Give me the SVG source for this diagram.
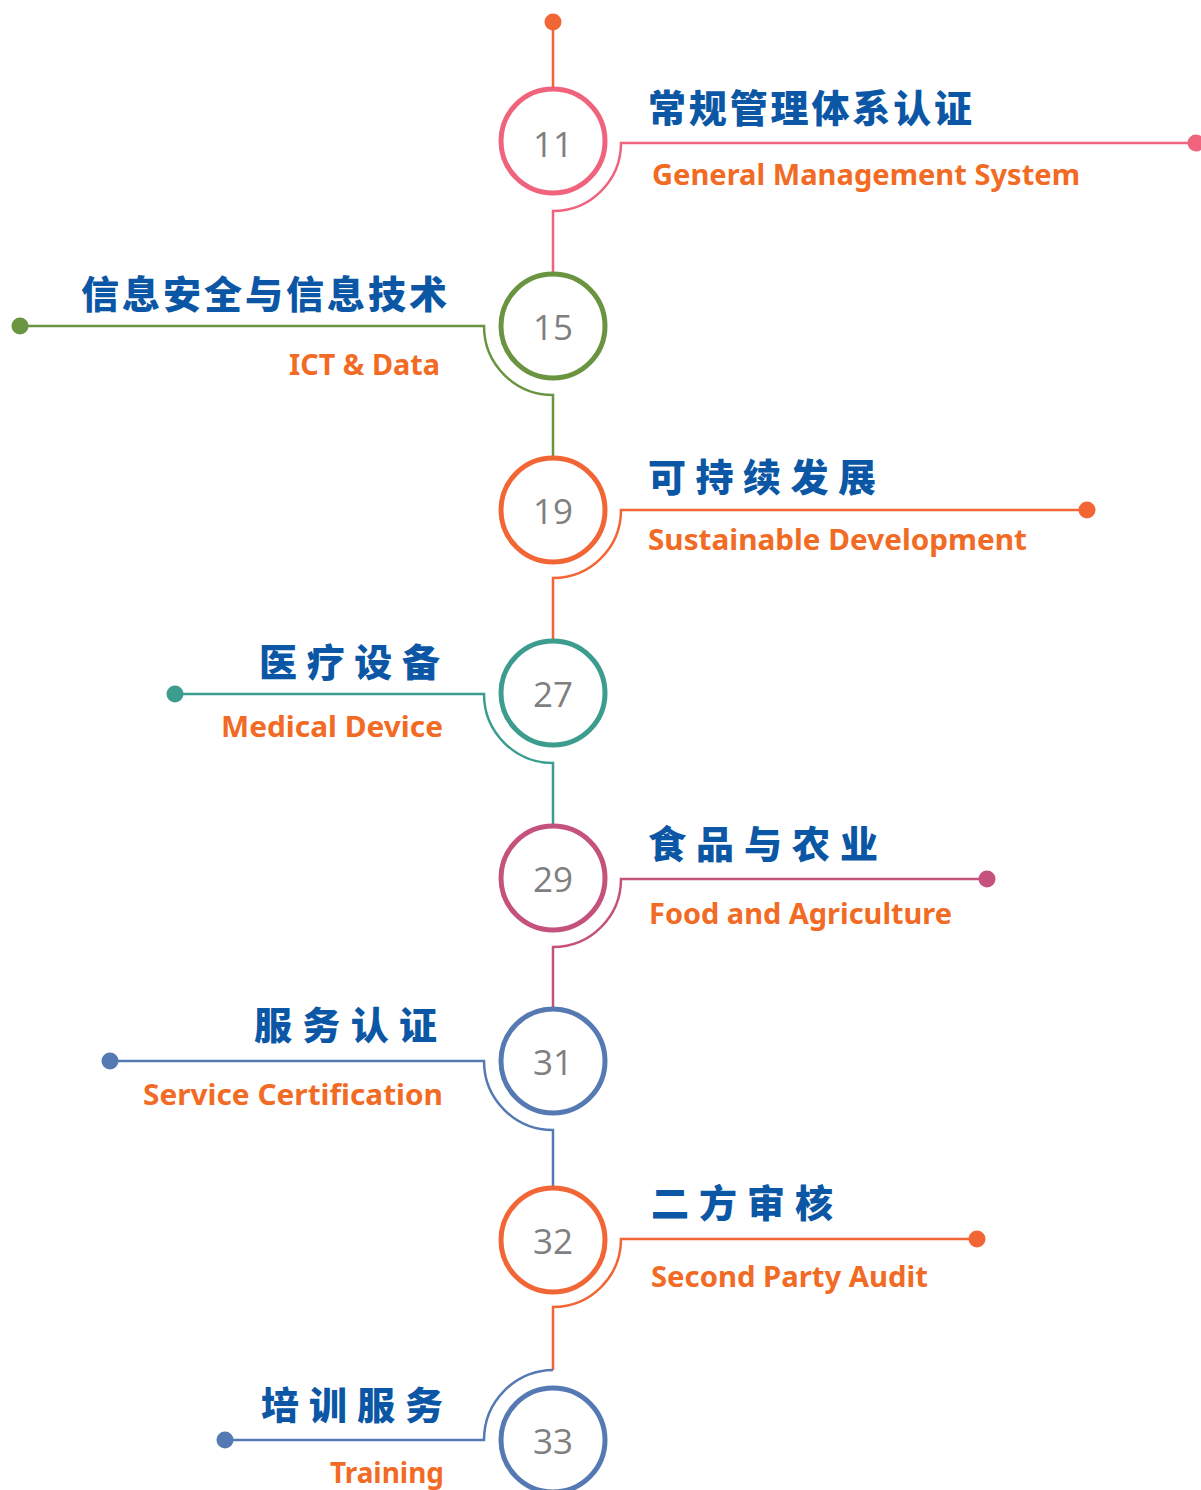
<svg xmlns="http://www.w3.org/2000/svg" width="1201" height="1490" viewBox="0 0 1201 1490">
<style>
.ring{fill:#fff;stroke-width:5}
.num{font-family:"Open Sans","Noto Sans",sans-serif;font-size:35px;fill:#7f7f7f;text-anchor:middle}
.cn{font-family:"Noto Sans CJK SC","Noto Sans",sans-serif;font-weight:900;font-size:38px;fill:#0b57a5}
.en{font-family:"Noto Sans","Open Sans",sans-serif;font-weight:700;font-size:28px;fill:#f26b25}
.ln{fill:none;stroke-width:2.5}
.pink{stroke:#f0637c}.green{stroke:#6a9440}.orange{stroke:#f26535}.teal{stroke:#3c9d8f}.mag{stroke:#c5517d}.blue{stroke:#5579b2}
</style>
<rect width="1201" height="1490" fill="#fff"/>
<g id="connectors">
  <line class="ln orange" x1="553" y1="22" x2="553" y2="89"/>
  <circle cx="553" cy="22" r="8.5" fill="#f26535"/>
  <path class="ln pink" d="M1196,143 H621 A68,68 0 0 1 553,211 V274"/>
  <circle cx="1196" cy="143" r="8.5" fill="#f0637c"/>
  <path class="ln green" d="M20,326 H484 A69,69 0 0 0 553,395 V458"/>
  <circle cx="20" cy="326" r="8.5" fill="#6a9440"/>
  <path class="ln orange" d="M1087,510 H621 A68,68 0 0 1 553,578 V641"/>
  <circle cx="1087" cy="510" r="8.5" fill="#f26535"/>
  <path class="ln teal" d="M175,694 H484 A69,69 0 0 0 553,763 V826"/>
  <circle cx="175" cy="694" r="8.5" fill="#3c9d8f"/>
  <path class="ln mag" d="M987,879 H621 A68,68 0 0 1 553,947 V1009"/>
  <circle cx="987" cy="879" r="8.5" fill="#c5517d"/>
  <path class="ln blue" d="M110,1061 H484 A69,69 0 0 0 553,1130 V1188"/>
  <circle cx="110" cy="1061" r="8.5" fill="#5579b2"/>
  <path class="ln orange" d="M977,1239 H621 A68,68 0 0 1 553,1307 V1370"/>
  <circle cx="977" cy="1239" r="8.5" fill="#f26535"/>
  <path class="ln blue" d="M553,1370 A70,70 0 0 0 484,1440 H225"/>
  <circle cx="225" cy="1440" r="8.5" fill="#5579b2"/>
</g>
<g id="n11">
  <circle class="ring pink" cx="553" cy="141" r="52"/>
  <text class="num" x="553" y="157">11</text>
  <text class="cn" x="648" y="122" textLength="324" lengthAdjust="spacing">常规管理体系认证</text>
  <text class="en" x="652" y="185" textLength="428" lengthAdjust="spacingAndGlyphs">General Management System</text>
</g>
<g id="n15">
  <circle class="ring green" cx="553" cy="326" r="52"/>
  <text class="num" x="553" y="340">15</text>
  <text class="cn" x="81" y="308" textLength="366" lengthAdjust="spacing">信息安全与信息技术</text>
  <text class="en" x="289" y="375" textLength="151" lengthAdjust="spacingAndGlyphs">ICT &amp; Data</text>
</g>
<g id="n19">
  <circle class="ring orange" cx="553" cy="510" r="52"/>
  <text class="num" x="553" y="524">19</text>
  <text class="cn" x="648" y="491" textLength="228" lengthAdjust="spacing">可持续发展</text>
  <text class="en" x="648" y="550" textLength="379" lengthAdjust="spacingAndGlyphs">Sustainable Development</text>
</g>
<g id="n27">
  <circle class="ring teal" cx="553" cy="693" r="52"/>
  <text class="num" x="553" y="707">27</text>
  <text class="cn" x="259" y="676" textLength="181" lengthAdjust="spacing">医疗设备</text>
  <text class="en" x="221" y="737" textLength="222" lengthAdjust="spacingAndGlyphs">Medical Device</text>
</g>
<g id="n29">
  <circle class="ring mag" cx="553" cy="878" r="52"/>
  <text class="num" x="553" y="892">29</text>
  <text class="cn" x="648" y="858" textLength="230" lengthAdjust="spacing">食品与农业</text>
  <text class="en" x="649" y="924" textLength="303" lengthAdjust="spacingAndGlyphs">Food and Agriculture</text>
</g>
<g id="n31">
  <circle class="ring blue" cx="553" cy="1061" r="52"/>
  <text class="num" x="553" y="1075">31</text>
  <text class="cn" x="254" y="1039" textLength="183" lengthAdjust="spacing">服务认证</text>
  <text class="en" x="143" y="1105" textLength="300" lengthAdjust="spacingAndGlyphs">Service Certification</text>
</g>
<g id="n32">
  <circle class="ring orange" cx="553" cy="1240" r="52"/>
  <text class="num" x="553" y="1254">32</text>
  <text class="cn" x="651" y="1217" textLength="182" lengthAdjust="spacing">二方审核</text>
  <text class="en" x="651" y="1287" textLength="277" lengthAdjust="spacingAndGlyphs">Second Party Audit</text>
</g>
<g id="n33">
  <circle class="ring blue" cx="553" cy="1440" r="52"/>
  <text class="num" x="553" y="1454">33</text>
  <text class="cn" x="261" y="1419" textLength="182" lengthAdjust="spacing">培训服务</text>
  <text class="en" x="330" y="1483" textLength="114" lengthAdjust="spacingAndGlyphs">Training</text>
</g>
</svg>
